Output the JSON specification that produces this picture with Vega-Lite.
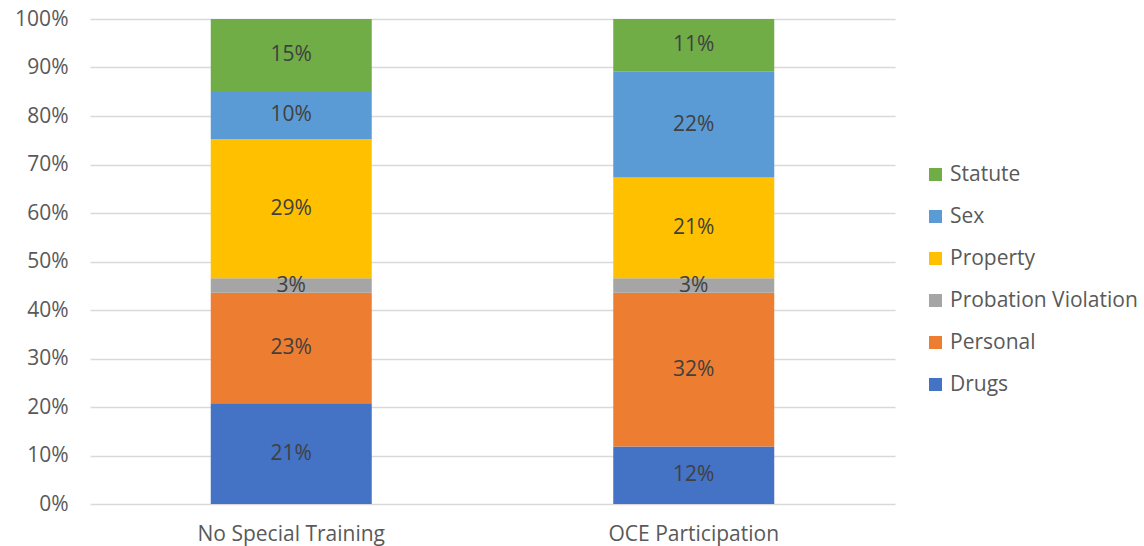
{
  "$schema": "https://vega.github.io/schema/vega-lite/v6.json",
  "width": 805,
  "height": 485,
  "autosize": {"type": "none"},
  "padding": {"left": 90, "top": 19, "right": 249, "bottom": 42},
  "background": "white",
  "config": {
    "view": {"stroke": null},
    "font": "Open Sans"
  },
  "data": {
    "values": [
      {"group": "No Special Training", "offense": "Drugs", "pct": 0.21, "order": 1},
      {"group": "No Special Training", "offense": "Personal", "pct": 0.23, "order": 2},
      {"group": "No Special Training", "offense": "Probation Violation", "pct": 0.03, "order": 3},
      {"group": "No Special Training", "offense": "Property", "pct": 0.29, "order": 4},
      {"group": "No Special Training", "offense": "Sex", "pct": 0.10, "order": 5},
      {"group": "No Special Training", "offense": "Statute", "pct": 0.15, "order": 6},
      {"group": "OCE Participation", "offense": "Drugs", "pct": 0.12, "order": 1},
      {"group": "OCE Participation", "offense": "Personal", "pct": 0.32, "order": 2},
      {"group": "OCE Participation", "offense": "Probation Violation", "pct": 0.03, "order": 3},
      {"group": "OCE Participation", "offense": "Property", "pct": 0.21, "order": 4},
      {"group": "OCE Participation", "offense": "Sex", "pct": 0.22, "order": 5},
      {"group": "OCE Participation", "offense": "Statute", "pct": 0.11, "order": 6}
    ]
  },
  "transform": [
    {"stack": "pct", "groupby": ["group"], "sort": [{"field": "order"}], "offset": "normalize", "as": ["y0", "y1"]}
  ],
  "encoding": {
    "x": {
      "field": "group",
      "type": "nominal",
      "sort": null,
      "title": null,
      "scale": {"paddingInner": 0.6, "paddingOuter": 0.3},
      "axis": {
        "labelAngle": 0,
        "labelFontSize": 21,
        "labelColor": "#595959",
        "labelPadding": 19,
        "labelLimit": 400,
        "ticks": false,
        "domain": false
      }
    }
  },
  "layer": [
    {
      "mark": {"type": "bar"},
      "encoding": {
        "y": {
          "field": "y0",
          "type": "quantitative",
          "title": null,
          "scale": {"domain": [0, 1], "nice": false},
          "axis": {
            "format": ".0%",
            "values": [0, 0.1, 0.2, 0.3, 0.4, 0.5, 0.6, 0.7, 0.8, 0.9, 1],
            "labelFontSize": 21,
            "labelColor": "#595959",
            "labelPadding": 22,
            "ticks": false,
            "domain": false,
            "gridColor": "#d9d9d9",
            "gridWidth": 1.5
          }
        },
        "y2": {"field": "y1"},
        "color": {
          "field": "offense",
          "type": "nominal",
          "scale": {
            "domain": ["Statute", "Sex", "Property", "Probation Violation", "Personal", "Drugs"],
            "range": ["#70AD47", "#5B9BD5", "#FFC000", "#A5A5A5", "#ED7D31", "#4472C4"]
          },
          "legend": {
            "title": null,
            "orient": "none",
            "legendX": 835,
            "legendY": 145,
            "symbolType": "square",
            "symbolSize": 170,
            "symbolStrokeWidth": 0,
            "labelFontSize": 21,
            "labelColor": "#595959",
            "labelOffset": 4,
            "labelLimit": 300,
            "rowPadding": 20
          }
        }
      }
    },
    {
      "transform": [
        {"fold": ["y0", "y1"], "as": ["edge", "pos"]}
      ],
      "mark": {"type": "text", "fontSize": 21, "color": "#404040"},
      "encoding": {
        "y": {"field": "pos", "type": "quantitative", "aggregate": "mean"},
        "detail": {"field": "offense", "type": "nominal"},
        "text": {"field": "pct", "type": "quantitative", "format": ".0%"}
      }
    }
  ]
}
